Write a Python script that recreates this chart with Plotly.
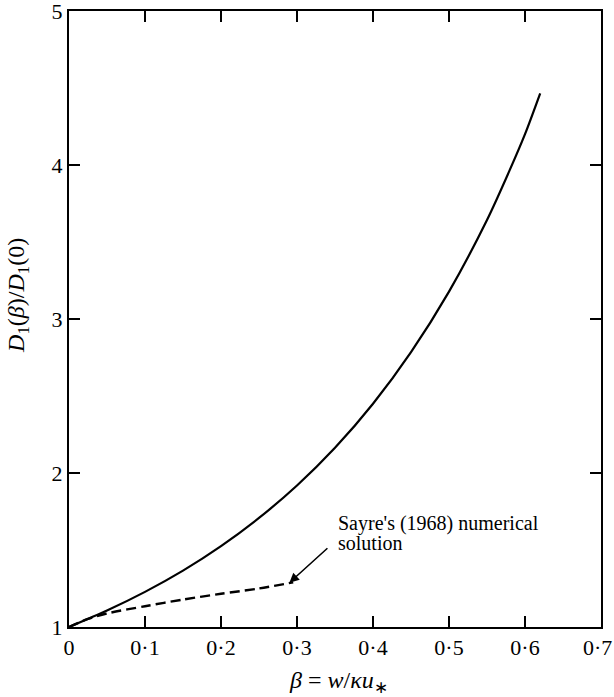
import plotly.graph_objects as go

# Solid curve: D1(beta)/D1(0)
beta_solid = [0.0, 0.05, 0.10, 0.15, 0.20, 0.25, 0.30, 0.35, 0.40, 0.45, 0.50, 0.55, 0.58, 0.60, 0.62]
ratio_solid = [1.0, 1.107, 1.228, 1.366, 1.525, 1.708, 1.919, 2.164, 2.450, 2.785, 3.178, 3.643, 3.968, 4.20, 4.465]

# Dashed curve: Sayre's (1968) numerical solution
beta_sayre = [0.0, 0.025, 0.05, 0.10, 0.15, 0.20, 0.25, 0.295]
ratio_sayre = [1.0, 1.052, 1.088, 1.135, 1.178, 1.216, 1.25, 1.29]

x_ticks = [0, 0.1, 0.2, 0.3, 0.4, 0.5, 0.6, 0.7]
x_ticktext = ["0", "0·1", "0·2", "0·3", "0·4", "0·5", "0·6", "0·7"]
y_ticks = [1, 2, 3, 4, 5]
y_ticktext = ["1", "2", "3", "4", "5"]

serif = "Liberation Serif"

fig = go.Figure()
fig.add_trace(go.Scatter(x=beta_solid, y=ratio_solid, mode="lines",
                         line=dict(color="black", width=2.2, shape="spline", smoothing=0.8),
                         showlegend=False, hoverinfo="skip"))
fig.add_trace(go.Scatter(x=beta_sayre, y=ratio_sayre, mode="lines",
                         line=dict(color="black", width=2.4, dash="10px,5px", shape="spline", smoothing=0.8),
                         showlegend=False, hoverinfo="skip"))

# Arrow pointing to the dashed curve
fig.add_annotation(x=0.290, y=1.288, ax=0.342, ay=1.52, xref="x", yref="y",
                   axref="x", ayref="y", text="", showarrow=True,
                   arrowhead=2, arrowsize=1.2, arrowwidth=1.6, arrowcolor="black")
# Label (two lines, tight leading)
fig.add_annotation(x=0.352, y=1.675, xref="x", yref="y",
                   text="Sayre's (1968) numerical", showarrow=False,
                   xanchor="left", yanchor="middle", borderpad=0,
                   font=dict(family=serif, size=20, color="black"))
fig.add_annotation(x=0.352, y=1.545, xref="x", yref="y",
                   text="solution", showarrow=False,
                   xanchor="left", yanchor="middle", borderpad=0,
                   font=dict(family=serif, size=20, color="black"))

# Last x tick label placed flush against the right edge (as in the reference)
fig.add_annotation(x=x_ticks[-1], y=0, xref="x", yref="paper", yshift=-20, xshift=12,
                   text=x_ticktext[-1], showarrow=False, borderpad=0,
                   xanchor="right", yanchor="middle",
                   font=dict(family=serif, size=22, color="black"))

# Axis titles
fig.add_annotation(x=0.354, y=0, xref="x", yref="paper", yshift=-55,
                   text="<i>β</i> = <i>w</i>/<i>κu</i><sub>∗</sub>", showarrow=False,
                   xanchor="center", yanchor="middle",
                   font=dict(family=serif, size=24, color="black"))
fig.add_annotation(x=0, y=3.15, xref="paper", yref="y", xshift=-51,
                   text="<i>D</i><sub>1</sub>(<i>β</i>)/<i>D</i><sub>1</sub>(0)", showarrow=False,
                   textangle=-90, xanchor="center", yanchor="middle",
                   font=dict(family=serif, size=24, color="black"))

axis_common = dict(showline=True, linecolor="black", linewidth=2, mirror="ticks",
                   ticks="inside", ticklen=11, tickwidth=2, tickcolor="black",
                   showgrid=False, zeroline=False, automargin=False,
                   ticklabeloverflow="allow",
                   tickfont=dict(family=serif, size=22, color="black"))

fig.update_layout(
    width=614, height=697,
    margin=dict(l=69, r=13, t=11, b=70),
    paper_bgcolor="white", plot_bgcolor="white",
    xaxis=dict(range=[0, 0.7], tickvals=x_ticks,
               ticktext=x_ticktext[:-1] + [""], **axis_common),
    yaxis=dict(range=[1, 5], tickvals=y_ticks, ticktext=y_ticktext, **axis_common),
)

fig.write_html("out.html")
